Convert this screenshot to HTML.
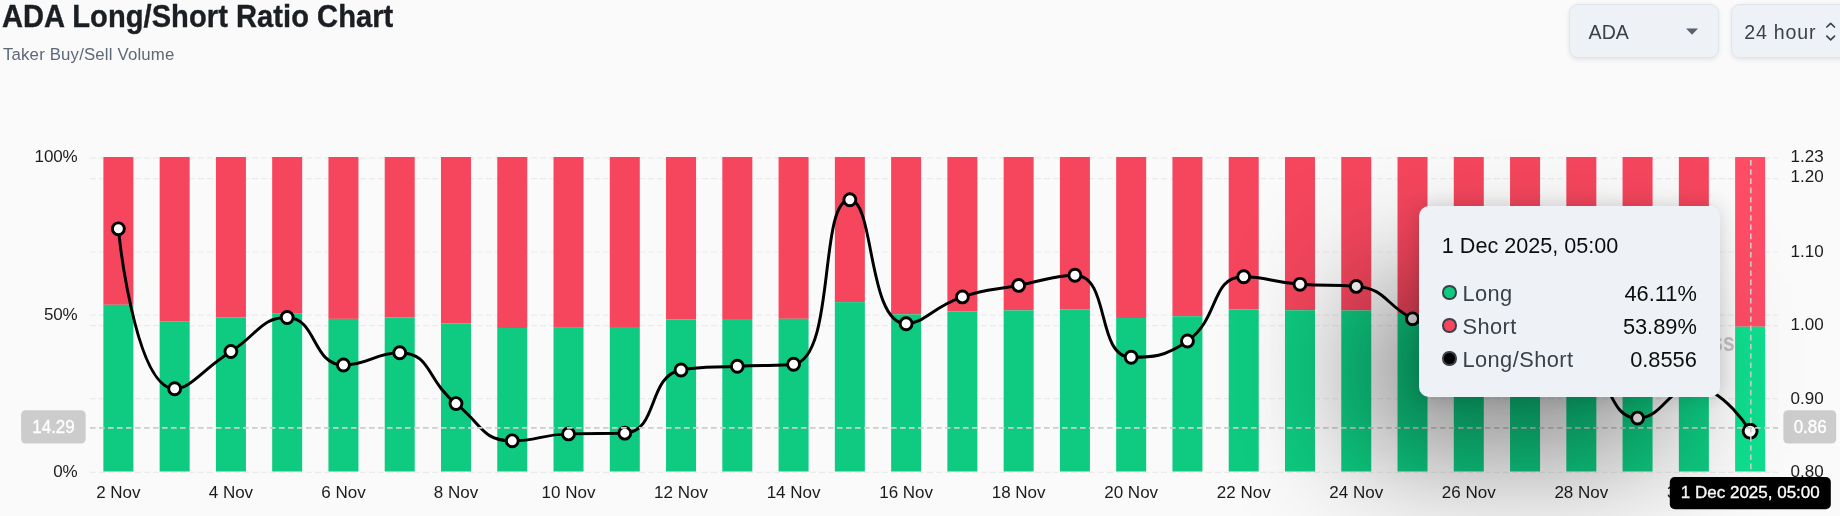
<!DOCTYPE html>
<html lang="en"><head><meta charset="utf-8"><title>ADA Long/Short Ratio Chart</title>
<style>
html,body{margin:0;padding:0;}
body{width:1840px;height:516px;overflow:hidden;background:#fafafa;position:relative;font-family:"Liberation Sans",sans-serif;}
.chart{position:absolute;left:0;top:0;will-change:transform;}
h1,.sub,.sel,.tip{will-change:transform;}
h1{position:absolute;left:1.8px;top:-1.7px;margin:0;font-size:29.1px;line-height:34px;font-weight:700;color:#1b1e22;letter-spacing:0.05px;white-space:nowrap;transform:scaleY(1.09);transform-origin:0 0;-webkit-text-stroke:0.35px #1b1e22;}
.sub{position:absolute;left:2.6px;top:44.2px;font-size:16.8px;line-height:22px;color:#5d6878;white-space:nowrap;letter-spacing:0.17px;}
.sel{position:absolute;top:4px;height:51.6px;box-sizing:content-box;background:#eef2f6;border:1px solid #dde5ee;border-radius:9px;box-shadow:0 1.5px 4px rgba(40,50,60,.10);color:#3a4149;font-size:19.6px;line-height:51.5px;white-space:nowrap;}
.sel span{position:absolute;top:1.6px;}
#s1{left:1569px;width:148px;}
#s1 span{left:18.6px;}
#s2{left:1731px;width:130px;}
#s2 span{left:12.2px;letter-spacing:0.8px;}
.tip{position:absolute;left:1419px;top:206px;width:301px;height:190.5px;box-sizing:border-box;background:#eef2f6;border-radius:10px;
box-shadow:0 0 19px rgba(0,0,0,.16);}
.bigsh{position:absolute;left:-1000px;top:284.3px;width:307.7px;height:170.4px;border-radius:10px;box-shadow:2357.6px 0 129.2px rgba(0,0,0,.45);}
.tip .t{position:absolute;left:22.8px;top:26.8px;font-size:21.6px;line-height:26px;color:#0d0d0d;white-space:nowrap;}
.row{position:absolute;left:0;right:0;height:30px;}
.row i{position:absolute;left:23.3px;top:7.3px;width:10.4px;height:10.4px;border:2.2px solid #3b4149;border-radius:50%;}
.row b{position:absolute;left:43.4px;top:1.4px;font-weight:400;letter-spacing:0.45px;font-size:21.8px;line-height:30px;color:#3b4149;white-space:nowrap;}
.row em{position:absolute;right:23.2px;top:1.4px;font-style:normal;font-size:21.8px;line-height:30px;color:#0d0d0d;white-space:nowrap;}
</style></head><body>
<svg class="chart" width="1840" height="516" viewBox="0 0 1840 516">
<g stroke="#ebebeb" stroke-width="1.2" stroke-dasharray="6 3" fill="none">
<path d="M90.0,157.90H1778.0"/>
<path d="M90.0,178.70H1778.0"/>
<path d="M90.0,252.00H1778.0"/>
<path d="M90.0,315.10H1778.0"/>
<path d="M90.0,325.60H1778.0"/>
<path d="M90.0,398.70H1778.0"/>
<path d="M90.0,472.30H1778.0"/>
</g>
<g shape-rendering="auto">
<rect x="103.38" y="157.00" width="30.0" height="147.81" fill="#F5465D"/>
<rect x="103.38" y="304.81" width="30.0" height="166.69" fill="#0ECB81"/>
<rect x="159.65" y="157.00" width="30.0" height="164.64" fill="#F5465D"/>
<rect x="159.65" y="321.64" width="30.0" height="149.86" fill="#0ECB81"/>
<rect x="215.92" y="157.00" width="30.0" height="160.38" fill="#F5465D"/>
<rect x="215.92" y="317.38" width="30.0" height="154.12" fill="#0ECB81"/>
<rect x="272.18" y="157.00" width="30.0" height="156.69" fill="#F5465D"/>
<rect x="272.18" y="313.69" width="30.0" height="157.81" fill="#0ECB81"/>
<rect x="328.45" y="157.00" width="30.0" height="161.90" fill="#F5465D"/>
<rect x="328.45" y="318.90" width="30.0" height="152.60" fill="#0ECB81"/>
<rect x="384.72" y="157.00" width="30.0" height="160.52" fill="#F5465D"/>
<rect x="384.72" y="317.52" width="30.0" height="153.98" fill="#0ECB81"/>
<rect x="440.98" y="157.00" width="30.0" height="166.39" fill="#F5465D"/>
<rect x="440.98" y="323.39" width="30.0" height="148.11" fill="#0ECB81"/>
<rect x="497.25" y="157.00" width="30.0" height="170.98" fill="#F5465D"/>
<rect x="497.25" y="327.98" width="30.0" height="143.52" fill="#0ECB81"/>
<rect x="553.52" y="157.00" width="30.0" height="170.10" fill="#F5465D"/>
<rect x="553.52" y="327.10" width="30.0" height="144.40" fill="#0ECB81"/>
<rect x="609.78" y="157.00" width="30.0" height="170.01" fill="#F5465D"/>
<rect x="609.78" y="327.01" width="30.0" height="144.49" fill="#0ECB81"/>
<rect x="666.05" y="157.00" width="30.0" height="162.47" fill="#F5465D"/>
<rect x="666.05" y="319.47" width="30.0" height="152.03" fill="#0ECB81"/>
<rect x="722.32" y="157.00" width="30.0" height="162.04" fill="#F5465D"/>
<rect x="722.32" y="319.04" width="30.0" height="152.46" fill="#0ECB81"/>
<rect x="778.58" y="157.00" width="30.0" height="161.81" fill="#F5465D"/>
<rect x="778.58" y="318.81" width="30.0" height="152.69" fill="#0ECB81"/>
<rect x="834.85" y="157.00" width="30.0" height="145.12" fill="#F5465D"/>
<rect x="834.85" y="302.12" width="30.0" height="169.38" fill="#0ECB81"/>
<rect x="891.12" y="157.00" width="30.0" height="157.35" fill="#F5465D"/>
<rect x="891.12" y="314.35" width="30.0" height="157.15" fill="#0ECB81"/>
<rect x="947.38" y="157.00" width="30.0" height="154.53" fill="#F5465D"/>
<rect x="947.38" y="311.53" width="30.0" height="159.97" fill="#0ECB81"/>
<rect x="1003.65" y="157.00" width="30.0" height="153.35" fill="#F5465D"/>
<rect x="1003.65" y="310.35" width="30.0" height="161.15" fill="#0ECB81"/>
<rect x="1059.92" y="157.00" width="30.0" height="152.33" fill="#F5465D"/>
<rect x="1059.92" y="309.33" width="30.0" height="162.17" fill="#0ECB81"/>
<rect x="1116.18" y="157.00" width="30.0" height="161.02" fill="#F5465D"/>
<rect x="1116.18" y="318.02" width="30.0" height="153.48" fill="#0ECB81"/>
<rect x="1172.45" y="157.00" width="30.0" height="159.22" fill="#F5465D"/>
<rect x="1172.45" y="316.22" width="30.0" height="155.28" fill="#0ECB81"/>
<rect x="1228.72" y="157.00" width="30.0" height="152.48" fill="#F5465D"/>
<rect x="1228.72" y="309.48" width="30.0" height="162.02" fill="#0ECB81"/>
<rect x="1284.98" y="157.00" width="30.0" height="153.24" fill="#F5465D"/>
<rect x="1284.98" y="310.24" width="30.0" height="161.26" fill="#0ECB81"/>
<rect x="1341.25" y="157.00" width="30.0" height="153.45" fill="#F5465D"/>
<rect x="1341.25" y="310.45" width="30.0" height="161.05" fill="#0ECB81"/>
<rect x="1397.52" y="157.00" width="30.0" height="156.83" fill="#F5465D"/>
<rect x="1397.52" y="313.83" width="30.0" height="157.67" fill="#0ECB81"/>
<rect x="1453.78" y="157.00" width="30.0" height="159.77" fill="#F5465D"/>
<rect x="1453.78" y="316.77" width="30.0" height="154.73" fill="#0ECB81"/>
<rect x="1510.05" y="157.00" width="30.0" height="161.56" fill="#F5465D"/>
<rect x="1510.05" y="318.56" width="30.0" height="152.94" fill="#0ECB81"/>
<rect x="1566.32" y="157.00" width="30.0" height="162.01" fill="#F5465D"/>
<rect x="1566.32" y="319.01" width="30.0" height="152.49" fill="#0ECB81"/>
<rect x="1622.58" y="157.00" width="30.0" height="168.15" fill="#F5465D"/>
<rect x="1622.58" y="325.15" width="30.0" height="146.35" fill="#0ECB81"/>
<rect x="1678.85" y="157.00" width="30.0" height="164.43" fill="#F5465D"/>
<rect x="1678.85" y="321.43" width="30.0" height="150.07" fill="#0ECB81"/>
<rect x="1735.12" y="157.00" width="30.0" height="169.72" fill="#FF4D66"/>
<rect x="1735.12" y="326.72" width="30.0" height="144.78" fill="#0FDF8E"/>
</g>
<text transform="translate(1734.7 351.3) scale(0.84 1)" x="0" y="0" text-anchor="end" font-family="'Liberation Sans',sans-serif" font-weight="700" font-size="25" fill="#c6c6c6">coinglass</text>
<path d="M118.38,228.80C118.38,228.80 134.40,388.75 174.65,388.75C190.67,388.75 202.42,369.54 230.92,351.50C258.68,333.92 260.64,317.50 287.18,317.50C316.91,317.50 311.88,365.00 343.45,365.00C368.14,365.00 375.43,352.75 399.72,352.75C431.70,352.75 426.21,380.29 455.98,403.60C482.48,424.34 481.67,440.85 512.25,440.85C537.94,440.85 540.28,434.66 568.52,433.90C596.54,433.15 602.30,433.90 624.78,433.15C658.57,432.02 647.29,375.62 681.05,370.00C703.56,366.25 709.16,367.69 737.32,366.25C765.43,364.81 779.82,366.25 793.58,364.25C836.09,358.07 818.30,199.75 849.85,199.75C874.56,199.75 867.52,323.75 906.12,323.75C923.79,323.75 933.10,306.88 962.38,296.90C989.36,287.71 990.45,290.82 1018.65,285.40C1046.72,280.00 1054.38,275.25 1074.92,275.25C1110.64,275.25 1095.77,357.25 1131.18,357.25C1152.04,357.25 1164.56,357.25 1187.45,341.00C1220.83,317.30 1209.92,276.75 1243.72,276.75C1266.18,276.75 1271.73,282.18 1299.98,284.30C1328.00,286.40 1330.12,284.30 1356.25,286.40C1386.38,288.82 1383.85,303.62 1412.52,318.80C1440.11,333.42 1439.72,334.84 1468.78,346.00C1495.99,356.44 1496.41,357.85 1525.05,362.00C1552.67,366.00 1557.47,362.00 1581.32,366.00C1613.74,371.44 1606.98,418.10 1637.58,418.10C1663.24,418.10 1667.22,387.00 1693.85,387.00C1723.49,387.00 1750.12,431.20 1750.12,431.20" fill="none" stroke="#000" stroke-width="2.95" stroke-linejoin="round" stroke-linecap="round"/>
<circle cx="118.38" cy="228.80" r="5.95" fill="#fff" stroke="#000" stroke-width="2.9"/>
<circle cx="174.65" cy="388.75" r="5.95" fill="#fff" stroke="#000" stroke-width="2.9"/>
<circle cx="230.92" cy="351.50" r="5.95" fill="#fff" stroke="#000" stroke-width="2.9"/>
<circle cx="287.18" cy="317.50" r="5.95" fill="#fff" stroke="#000" stroke-width="2.9"/>
<circle cx="343.45" cy="365.00" r="5.95" fill="#fff" stroke="#000" stroke-width="2.9"/>
<circle cx="399.72" cy="352.75" r="5.95" fill="#fff" stroke="#000" stroke-width="2.9"/>
<circle cx="455.98" cy="403.60" r="5.95" fill="#fff" stroke="#000" stroke-width="2.9"/>
<circle cx="512.25" cy="440.85" r="5.95" fill="#fff" stroke="#000" stroke-width="2.9"/>
<circle cx="568.52" cy="433.90" r="5.95" fill="#fff" stroke="#000" stroke-width="2.9"/>
<circle cx="624.78" cy="433.15" r="5.95" fill="#fff" stroke="#000" stroke-width="2.9"/>
<circle cx="681.05" cy="370.00" r="5.95" fill="#fff" stroke="#000" stroke-width="2.9"/>
<circle cx="737.32" cy="366.25" r="5.95" fill="#fff" stroke="#000" stroke-width="2.9"/>
<circle cx="793.58" cy="364.25" r="5.95" fill="#fff" stroke="#000" stroke-width="2.9"/>
<circle cx="849.85" cy="199.75" r="5.95" fill="#fff" stroke="#000" stroke-width="2.9"/>
<circle cx="906.12" cy="323.75" r="5.95" fill="#fff" stroke="#000" stroke-width="2.9"/>
<circle cx="962.38" cy="296.90" r="5.95" fill="#fff" stroke="#000" stroke-width="2.9"/>
<circle cx="1018.65" cy="285.40" r="5.95" fill="#fff" stroke="#000" stroke-width="2.9"/>
<circle cx="1074.92" cy="275.25" r="5.95" fill="#fff" stroke="#000" stroke-width="2.9"/>
<circle cx="1131.18" cy="357.25" r="5.95" fill="#fff" stroke="#000" stroke-width="2.9"/>
<circle cx="1187.45" cy="341.00" r="5.95" fill="#fff" stroke="#000" stroke-width="2.9"/>
<circle cx="1243.72" cy="276.75" r="5.95" fill="#fff" stroke="#000" stroke-width="2.9"/>
<circle cx="1299.98" cy="284.30" r="5.95" fill="#fff" stroke="#000" stroke-width="2.9"/>
<circle cx="1356.25" cy="286.40" r="5.95" fill="#fff" stroke="#000" stroke-width="2.9"/>
<circle cx="1412.52" cy="318.80" r="5.95" fill="#fff" stroke="#000" stroke-width="2.9"/>
<circle cx="1468.78" cy="346.00" r="5.95" fill="#fff" stroke="#000" stroke-width="2.9"/>
<circle cx="1525.05" cy="362.00" r="5.95" fill="#fff" stroke="#000" stroke-width="2.9"/>
<circle cx="1581.32" cy="366.00" r="5.95" fill="#fff" stroke="#000" stroke-width="2.9"/>
<circle cx="1637.58" cy="418.10" r="5.95" fill="#fff" stroke="#000" stroke-width="2.9"/>
<circle cx="1693.85" cy="387.00" r="5.95" fill="#fff" stroke="#000" stroke-width="2.9"/>
<circle cx="1750.12" cy="431.20" r="6.95" fill="#fff" stroke="#000" stroke-width="2.9"/>
<path d="M90.0,427.9H1778.0" stroke="#cdcdcd" stroke-width="1.8" stroke-dasharray="5.6 3.4" fill="none"/>
<path d="M1750.82,160.0V472.8" stroke="#d4d4d4" stroke-width="1.5" stroke-dasharray="5.6 3.6" fill="none"/>
<g font-family="'Liberation Sans',sans-serif" font-size="17" fill="#1c1c1c">
<text x="77.5" y="161.90" text-anchor="end" letter-spacing="-0.15">100%</text>
<text x="77.5" y="320.00" text-anchor="end" letter-spacing="-0.15">50%</text>
<text x="77.5" y="476.90" text-anchor="end" letter-spacing="-0.15">0%</text>
<text x="1790.6" y="161.70">1.23</text>
<text x="1790.6" y="182.40">1.20</text>
<text x="1790.6" y="256.80">1.10</text>
<text x="1790.6" y="329.60">1.00</text>
<text x="1790.6" y="404.30">0.90</text>
<text x="1790.6" y="476.60">0.80</text>
<text x="118.38" y="497.9" text-anchor="middle">2 Nov</text>
<text x="230.92" y="497.9" text-anchor="middle">4 Nov</text>
<text x="343.45" y="497.9" text-anchor="middle">6 Nov</text>
<text x="455.98" y="497.9" text-anchor="middle">8 Nov</text>
<text x="568.52" y="497.9" text-anchor="middle">10 Nov</text>
<text x="681.05" y="497.9" text-anchor="middle">12 Nov</text>
<text x="793.58" y="497.9" text-anchor="middle">14 Nov</text>
<text x="906.12" y="497.9" text-anchor="middle">16 Nov</text>
<text x="1018.65" y="497.9" text-anchor="middle">18 Nov</text>
<text x="1131.18" y="497.9" text-anchor="middle">20 Nov</text>
<text x="1243.72" y="497.9" text-anchor="middle">22 Nov</text>
<text x="1356.25" y="497.9" text-anchor="middle">24 Nov</text>
<text x="1468.78" y="497.9" text-anchor="middle">26 Nov</text>
<text x="1581.32" y="497.9" text-anchor="middle">28 Nov</text>
<text x="1693.85" y="497.9" text-anchor="middle">30 Nov</text>
</g>
<rect x="21.1" y="410.3" width="64.5" height="33.3" rx="4.5" fill="#cccccc"/>
<text transform="translate(53.5 432.6) scale(1 1.1)" text-anchor="middle" font-family="'Liberation Sans',sans-serif" font-size="17" fill="#fff" stroke="#fff" stroke-width="0.3">14.29</text>
<rect x="1783.4" y="410.3" width="52.8" height="33.3" rx="4.5" fill="#cccccc"/>
<text transform="translate(1810.2 432.6) scale(1 1.1)" text-anchor="middle" font-family="'Liberation Sans',sans-serif" font-size="17" fill="#fff" stroke="#fff" stroke-width="0.3">0.86</text>
<rect x="1669.8" y="477" width="161" height="32.2" rx="5" fill="#000"/>
<text x="1750.3" y="497.7" text-anchor="middle" font-family="'Liberation Sans',sans-serif" font-size="17" fill="#fff" stroke="#fff" stroke-width="0.35">1 Dec 2025, 05:00</text>
</svg>
<h1>ADA Long/Short Ratio Chart</h1>
<div class="sub">Taker Buy/Sell Volume</div>
<div class="sel" id="s1"><span>ADA</span>
<svg style="position:absolute;left:115px;top:22.8px" width="14" height="8" viewBox="0 0 14 8"><path d="M1.1,0.5H13L7.05,6.7Z" fill="#59616c"/></svg></div>
<div class="sel" id="s2"><span>24 hour</span>
<svg style="position:absolute;left:93px;top:14px" width="14" height="26" viewBox="0 0 14 26"><path d="M1.8,8.0L5.65,4.4L9.5,8.0M1.8,17.2L5.65,20.8L9.5,17.2" fill="none" stroke="#3a4149" stroke-width="1.7" stroke-linecap="round" stroke-linejoin="round"/></svg></div>
<div class="bigsh"></div>
<div class="tip">
<div class="t">1 Dec 2025, 05:00</div>
<div class="row" style="top:72px"><i style="background:#0ECB81"></i><b>Long</b><em>46.11%</em></div>
<div class="row" style="top:105px"><i style="background:#F6465D"></i><b>Short</b><em>53.89%</em></div>
<div class="row" style="top:138px"><i style="background:#000"></i><b>Long/Short</b><em>0.8556</em></div>
</div>
</body></html>
